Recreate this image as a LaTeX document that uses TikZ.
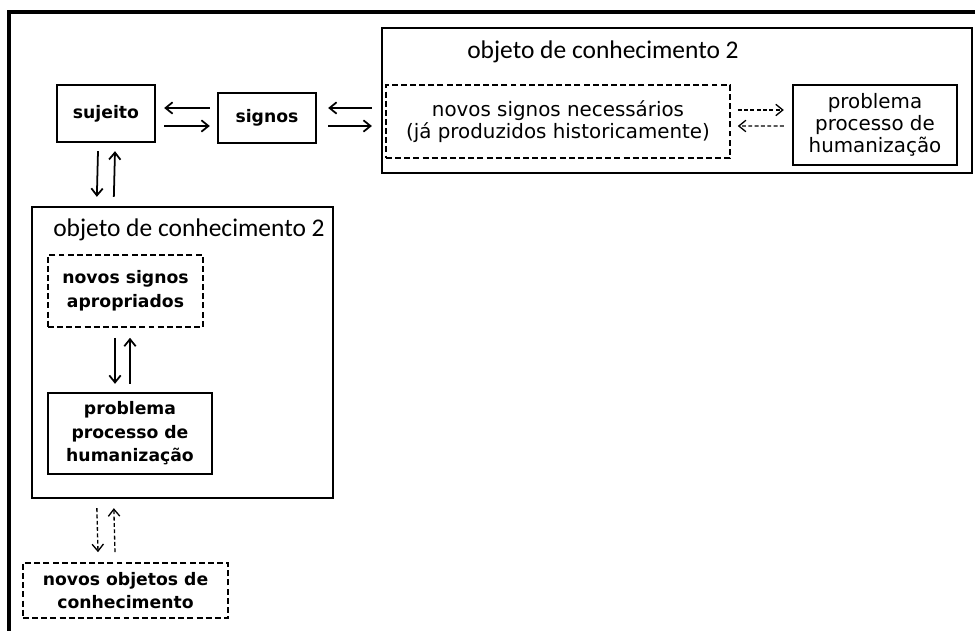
\documentclass[tikz,border=0pt]{standalone}
\usepackage{fontspec}
\setmainfont{DejaVu Sans}
\newfontfamily\carlito{Carlito}
\usetikzlibrary{calc,arrows.meta}

\tikzset{
  caixa/.style={draw, line width=1.35pt, inner sep=0pt, align=center},
  tracejada/.style={caixa, line width=0.95pt, dash pattern=on 3.4pt off 1.8pt},
  negrito/.style={font=\fontsize{9.8}{13.4}\selectfont\bfseries},
  normal/.style={font=\fontsize{11.3}{12.5}\selectfont},
  titulo/.style={inner sep=0pt, font=\carlito\fontsize{14.5}{16}\selectfont},
  seta/.style={-{Straight Barb[length=4pt,width=6.5pt]}, line width=1pt},
  setatr/.style={seta, line width=0.75pt, dash pattern=on 2.2pt off 1.4pt}
}

\begin{document}
\begin{tikzpicture}[x=0.02cm, y=-0.02cm]

\useasboundingbox (0,0) rectangle (975,631);

% moldura
\draw[line width=2pt] (9,645) -- (9,12) -- (990,12);

\node[caixa, negrito, minimum width=1.96cm, minimum height=1.14cm] (suj) at (106,113.5) {sujeito};
\node[caixa, negrito, minimum width=1.96cm, minimum height=1.0cm] (sig) at (267,118) {signos};

% objeto de conhecimento 2 (acima)
\node[caixa, minimum width=11.8cm, minimum height=2.9cm] (obj2) at (677,100.5) {};
\node[titulo] (t2) at (603,52) {objeto de conhecimento 2};
\node[tracejada, normal, minimum width=6.88cm, minimum height=1.46cm] (nec) at (558,121.5)
  {novos signos necessários\\(já produzidos historicamente)};
\node[caixa, normal, minimum width=3.28cm, minimum height=1.6cm] (prob2) at (875,125)
  {problema\\processo de\\humanização};

% objeto de conhecimento 2 (abaixo)
\node[caixa, minimum width=6.02cm, minimum height=5.82cm] (obj1) at (182.5,352.5) {};
\node[titulo] (t1) at (189,230) {objeto de conhecimento 2};
\node[tracejada, negrito, minimum width=3.1cm, minimum height=1.44cm] (apr) at (125.5,291)
  {novos signos\\apropriados};
\node[caixa, negrito, minimum width=3.28cm, minimum height=1.62cm] (prob1) at (130,433.5)
  {problema\\processo de\\humanização};

\node[tracejada, negrito, minimum width=4.1cm, minimum height=1.1cm] (nov) at (125.5,590.5)
  {novos objetos de\\conhecimento};

\draw[seta] ($(sig.west)+(-7,-10)$) -- ($(suj.east)+(8,-5.5)$);
\draw[seta] ($(suj.east)+(8,12.5)$) -- ($(sig.west)+(-7,8)$);

\draw[seta] ($(obj2.west)+(-9,7.5)$) -- ($(sig.east)+(11,-10)$);
\draw[seta] ($(sig.east)+(11,8)$) -- ($(obj2.west)+(-9,25.5)$);

\draw[setatr] ($(nec.east)+(7,-11.5)$) -- ($(prob2.west)+(-8,-15)$);
\draw[setatr] ($(prob2.west)+(-8,1)$) -- ($(nec.east)+(7,4.5)$);

\draw[seta] ($(suj.south)+(-8,8)$) -- ($(obj1.north west)+(66,-9)$);
\draw[seta] ($(obj1.north west)+(83,-9)$) -- ($(suj.south)+(9,8)$);

\draw[seta] ($(apr.south)+(-10.5,10)$) -- ($(prob1.north)+(-15,-8)$);
\draw[seta] ($(prob1.north)+(0,-8)$) -- ($(apr.south)+(4.5,10)$);

\draw[setatr] ($(obj1.south west)+(66,9)$) -- ($(nov.north)+(-27.5,-10)$);
\draw[setatr] ($(nov.north)+(-10.5,-10)$) -- ($(obj1.south west)+(83,9)$);

\end{tikzpicture}
\end{document}
